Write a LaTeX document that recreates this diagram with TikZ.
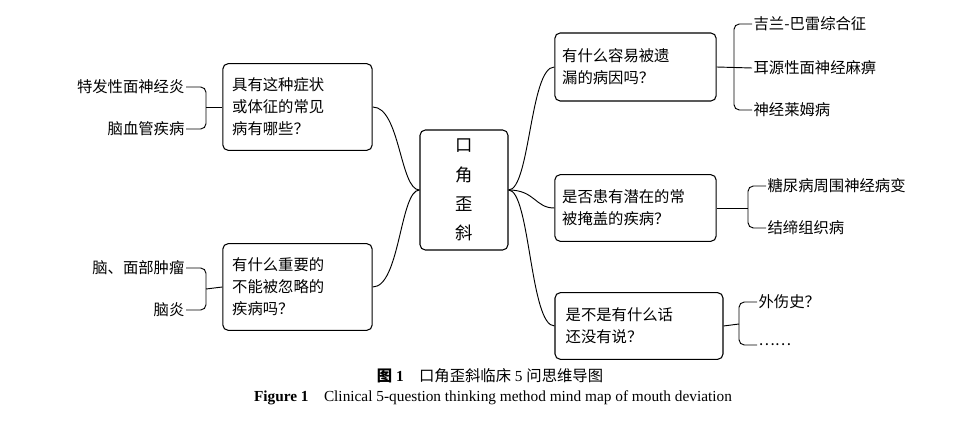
\documentclass[tikz,border=0pt]{standalone}
\usepackage{fontspec}
\setmainfont{Liberation Serif}
\newfontfamily\cjk{Noto Sans CJK SC}
\begin{document}
\begin{tikzpicture}[x=0.75pt,y=-0.75pt,
  box/.style={draw,rounded corners=4pt,line width=0.8pt,inner sep=0pt,font=\cjk\fontsize{11.5}{16.5}\selectfont,align=left},
  leaf/.style={font=\cjk\fontsize{11.5}{13}\selectfont,inner sep=1pt},
  con/.style={line width=0.7pt},
  br/.style={line width=0.7pt,rounded corners=4pt}]
\useasboundingbox (0,0) rectangle (968,424);
% center
\node[box,minimum width=66pt,minimum height=90pt,align=center,font=\cjk\fontsize{13}{22}\selectfont] (c) at (464,190) {口\\角\\歪\\斜};
% left boxes
\node[box,minimum width=112pt,minimum height=65pt,text width=98pt] (l1) at (297.5,107) {具有这种症状\\或体征的常见\\病有哪些？};
\node[box,minimum width=112pt,minimum height=65pt,text width=98pt] (l2) at (297.5,287) {有什么重要的\\不能被忽略的\\疾病吗？};
% right boxes
\node[box,minimum width=121pt,minimum height=51pt,text width=110pt] (r1) at (635.5,67) {有什么容易被遗\\漏的病因吗？};
\node[box,minimum width=121pt,minimum height=50pt,text width=110pt] (r2) at (635.5,208) {是否患有潜在的常\\被掩盖的疾病？};
\node[box,minimum width=126pt,minimum height=50pt,text width=110pt] (r3) at (639,326) {是不是有什么话\\还没有说？};
% connectors
\draw[con] (c.west) .. controls (400,190) and (400,107) .. (l1.east);
\draw[con] (c.west) .. controls (400,190) and (400,287) .. (l2.east);
\draw[con] (c.east) .. controls (530,190) and (530,67) .. (r1.west);
\draw[con] (c.east) .. controls (535,190) and (535,208) .. (r2.west);
\draw[con] (c.east) .. controls (530,190) and (530,326) .. (r3.west);
% left leaves
\node[leaf,anchor=east] (a1) at (186,87) {特发性面神经炎};
\node[leaf,anchor=east] (a2) at (186,129) {脑血管疾病};
\node[leaf,anchor=east] (a3) at (186,268) {脑、面部肿瘤};
\node[leaf,anchor=east] (a4) at (186,310) {脑炎};
\coordinate (m1) at (206,107);
\coordinate (m2) at (206,289);
\draw[br] (a1.east) -- (206,87) -- (206,129) -- (a2.east);
\draw[con] (m1) -- (l1.west);
\draw[br] (a3.east) -- (206,268) -- (206,310) -- (a4.east);
\draw[con] (m2) -- (l2.west);
% right leaves
\node[leaf,anchor=west] (b1) at (752,24) {吉兰-巴雷综合征};
\node[leaf,anchor=west] (b2) at (752,68) {耳源性面神经麻痹};
\node[leaf,anchor=west] (b3) at (752,110) {神经莱姆病};
\draw[br] (b1.west) -- (734,24) -- (734,110) -- (b3.west);
\draw[con] (r1.east) -- (b2.west);
\node[leaf,anchor=west] (d1) at (766,186) {糖尿病周围神经病变};
\node[leaf,anchor=west] (d2) at (766,228) {结缔组织病};
\draw[br] (d1.west) -- (748,186) -- (748,228) -- (d2.west);
\coordinate (m3) at (748,208);
\draw[con] (r2.east) -- (m3);
\node[leaf,anchor=west] (e1) at (757,302) {外伤史？};
\node[leaf,anchor=west] (e2) at (757,345) {……};
\draw[br] (e1.west) -- (739,302) -- (739,345) -- (e2.west);
\coordinate (m4) at (739,324);
\draw[con] (r3.east) -- (m4);
% captions
\node[font=\fontsize{11.5}{13}\selectfont] (cap1) at (490,376) {{\cjk\bfseries 图} \textbf{1}\quad {\cjk 口角歪斜临床} 5 {\cjk 问思维导图}};
\node[font=\fontsize{11.5}{13}\selectfont] (cap2) at (493,398) {\textbf{Figure 1}\quad Clinical 5-question thinking method mind map of mouth deviation};
\end{tikzpicture}
\end{document}
